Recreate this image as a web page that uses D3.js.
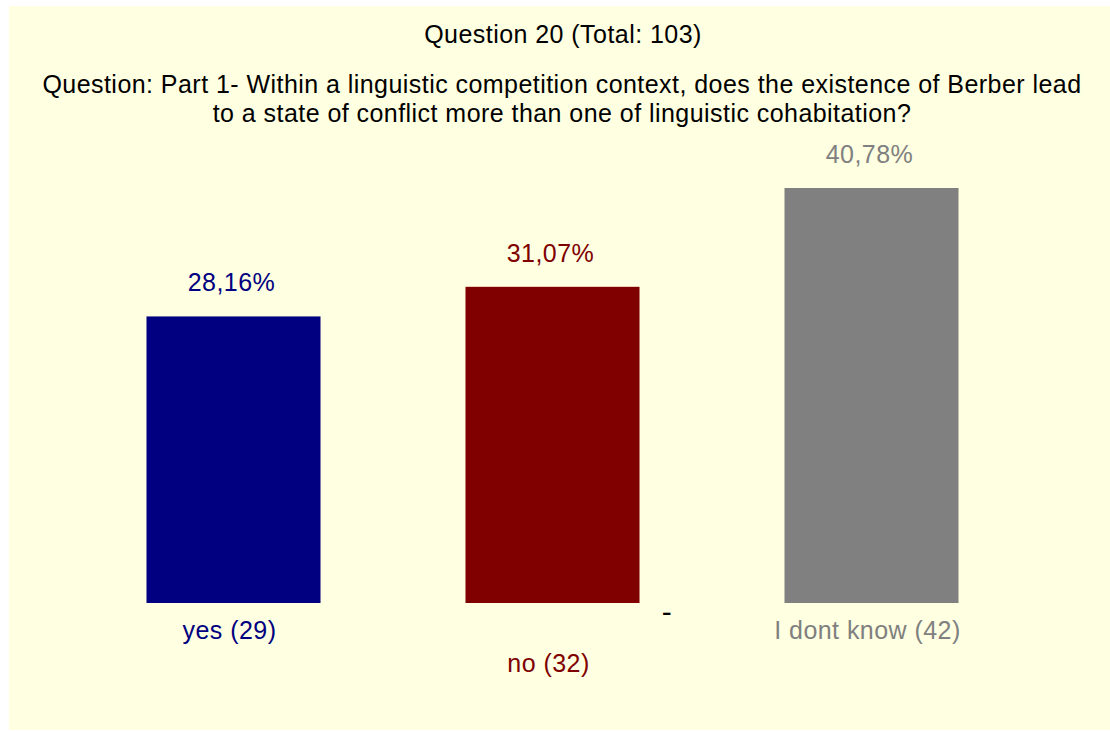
<!DOCTYPE html>
<html>
<head>
<meta charset="utf-8">
<script src="https://cdn.jsdelivr.net/npm/d3@7"></script>
<style>
  html, body { margin: 0; padding: 0; background: #ffffff; }
  svg { display: block; }
  text { font-family: "Liberation Sans", Arial, sans-serif; letter-spacing: 0.45px; }
</style>
</head>
<body>
<svg id="chart" width="1110" height="731"></svg>
<script>
// ---- data ----
const categories = ["yes", "no", "I dont know"];
const counts = [29, 32, 42];
const percents = [28.16, 31.07, 40.78];
const percentLabels = ["28,16%", "31,07%", "40,78%"];
const colors = ["#000080", "#800000", "#808080"];
const titleText = "Question 20 (Total: 103)";
const questionLines = [
  "Question: Part 1- Within a linguistic competition context, does the existence of Berber lead",
  "to a state of conflict more than one of linguistic cohabitation?"
];

// ---- layout ----
const W = 1110, H = 731;
const svg = d3.select("#chart");

svg.append("rect")
  .attr("x", 9).attr("y", 6)
  .attr("width", W - 9).attr("height", 724)
  .attr("fill", "#ffffe1");

const x = d3.scaleBand()
  .domain(categories)
  .range([74, 1031])
  .paddingInner(0.4545)
  .paddingOuter(0.4545 / 2);

const y = d3.scaleLinear()
  .domain([0, d3.max(percents)])
  .range([603, 188]);

const fs = 25;

// title
svg.append("text")
  .attr("x", 563).attr("y", 43)
  .attr("text-anchor", "middle")
  .attr("font-size", fs)
  .attr("fill", "#000")
  .text(titleText);

svg.selectAll("text.q")
  .data(questionLines)
  .enter().append("text")
  .attr("class", "q")
  .attr("x", 562)
  .attr("y", (d, i) => 93 + i * 29)
  .attr("text-anchor", "middle")
  .attr("font-size", fs)
  .attr("fill", "#000")
  .text(d => d);

const rows = categories.map((c, i) => ({
  cat: c, count: counts[i], pct: percents[i], lab: percentLabels[i], color: colors[i], i
}));

// bars
svg.selectAll("rect.bar")
  .data(rows)
  .enter().append("rect")
  .attr("class", "bar")
  .attr("x", d => x(d.cat))
  .attr("width", x.bandwidth())
  .attr("y", d => y(d.pct))
  .attr("height", d => y(0) - y(d.pct))
  .attr("fill", d => d.color);

// value labels
svg.selectAll("text.val")
  .data(rows)
  .enter().append("text")
  .attr("class", "val")
  .attr("x", d => x(d.cat) + x.bandwidth() / 2 - 2)
  .attr("y", d => y(d.pct) - 25)
  .attr("text-anchor", "middle")
  .attr("font-size", fs)
  .attr("fill", d => d.color)
  .text(d => d.lab);

// category labels (staggered)
svg.selectAll("text.cat")
  .data(rows)
  .enter().append("text")
  .attr("class", "cat")
  .attr("x", d => x(d.cat) + x.bandwidth() / 2 - 4)
  .attr("y", d => y(0) + 36 + (d.i % 2) * 33)
  .attr("text-anchor", "middle")
  .attr("font-size", fs)
  .attr("fill", d => d.color)
  .text(d => `${d.cat} (${d.count})`);

// small dash mark
svg.append("text")
  .attr("x", 667).attr("y", 622)
  .attr("text-anchor", "middle")
  .attr("font-size", 30)
  .attr("fill", "#000")
  .text("-");
</script>
</body>
</html>
